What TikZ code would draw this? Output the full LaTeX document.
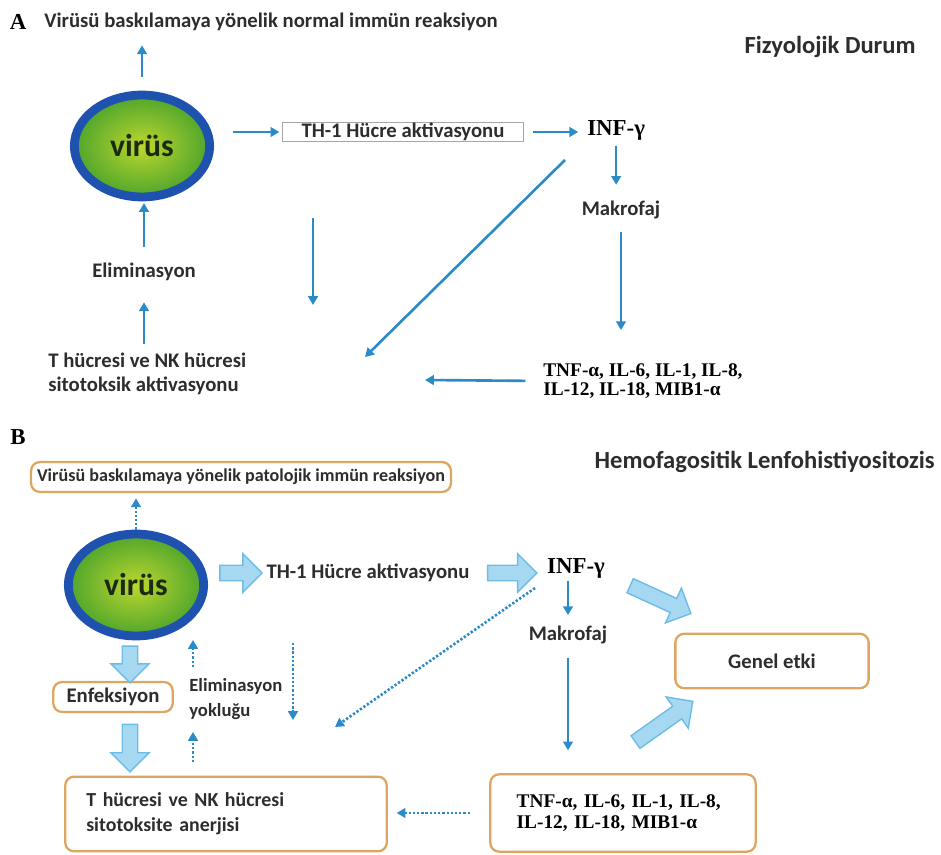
\documentclass[tikz,border=0pt]{standalone}
\usepackage{fontspec}
\setmainfont{Liberation Serif}
\newfontfamily\calib{Carlito}
\usetikzlibrary{shapes.geometric,shapes.arrows,arrows.meta}

\definecolor{lnblue}{HTML}{2A8BC8}
\definecolor{fatfill}{HTML}{A6D8F2}
\definecolor{fatline}{HTML}{6CBCE6}
\definecolor{boxor}{HTML}{DDA560}
\definecolor{txtgray}{HTML}{2D2D2D}
\definecolor{virblue}{HTML}{1F52AE}
\definecolor{virgreen}{HTML}{4FA52C}
\definecolor{viryel}{HTML}{BCD72E}
\definecolor{virtext}{HTML}{1C2A10}

\tikzset{
  lbl/.style={font=\calib\bfseries\fontsize{11.8}{14}\selectfont, text=txtgray, inner sep=0pt},
  lblsm/.style={lbl, font=\calib\bfseries\fontsize{10.6}{14}\selectfont},
  ttl/.style={font=\calib\bfseries\fontsize{14}{16}\selectfont, text=txtgray, inner sep=0pt},
  ser/.style={font=\bfseries\fontsize{11}{10.5}\selectfont, text=black, inner sep=0pt},
  serbig/.style={font=\bfseries\fontsize{13}{13}\selectfont, text=black, inner sep=0pt},
  virus/.style={ellipse, minimum width=77pt, minimum height=58pt, draw=virblue,
    line width=5pt, inner color=viryel, outer color=virgreen,
    font=\calib\bfseries\fontsize{18}{18}\selectfont, text=virtext},
  orbox/.style={draw=boxor, line width=1.3pt, rounded corners=5pt},
  ln/.style={draw=lnblue, line width=1.5pt, -{Triangle[length=5pt,width=5.5pt]}},
  dln/.style={ln, dash pattern=on 1.3pt off 1.1pt},
  fat/.style={single arrow, draw=fatline, fill=fatfill, line width=0.8pt,
    inner xsep=0pt, inner ysep=4pt, single arrow head extend=6.5pt,
    midway, sloped}
}

\begin{document}
\begin{tikzpicture}[x=0.02cm,y=-0.02cm]
\useasboundingbox (0,0) rectangle (941,855);

% -------- A: Fizyolojik Durum --------
\node[serbig] (labA) at (18,22) {A};
\node[lbl, anchor=west] (topA) at (44,22) {Virüsü baskılamaya yönelik normal immün reaksiyon};
\node[ttl, anchor=east] (ttlA) at (916,47) {Fizyolojik Durum};
\node[virus] (virA) at (142,146) {virüs};
\node[lbl, draw=gray!70, line width=0.8pt, minimum width=137pt,
      text height=8.5pt, text depth=2.5pt] (thA) at (403,132) {TH-1 Hücre aktivasyonu};
\node[serbig, anchor=west] (infA) at (587,130) {INF-γ};
\node[lbl] (makA) at (621,210) {Makrofaj};
\node[ser, align=left, anchor=west] (cytA) at (543,381) {TNF-α, IL-6, IL-1, IL-8,\\IL-12, IL-18, MIB1-α};
\node[lbl] (elimA) at (144,272) {Eliminasyon};
\node[lbl, align=left, anchor=west] (tA) at (48,374) {T hücresi ve NK hücresi\\sitotoksik aktivasyonu};

\coordinate (dA1) at (313,218);
\coordinate (dA2) at (313,305);
\coordinate (gA1) at (565,160);
\coordinate (gA2) at (365,357);
\coordinate (cA) at (425,380);

\draw[ln, shorten <=8pt, shorten >=8pt] (virA.north) -- (virA.north |- topA.south);
\draw[ln, shorten <=11pt, shorten >=1.5pt] (virA.east |- thA.west) -- (thA.west);
\draw[ln, shorten <=5pt, shorten >=5pt] (thA.east) -- (thA.east -| infA.west);
\draw[ln, shorten <=3pt, shorten >=9pt] (infA.south) -- (infA.south |- makA.north);
\draw[ln, shorten <=7pt, shorten >=19pt] (makA.south) -- (makA.south |- cytA.north);
\draw[ln, shorten <=10pt] (cytA.west) -- (cA);
\draw[ln] (gA1) -- (gA2);
\draw[ln] (dA1) -- (dA2);
\draw[ln, shorten <=5pt, shorten >=12pt] (elimA.south |- tA.north) -- (elimA.south);
\draw[ln, shorten <=9pt, shorten >=1pt] (elimA.north) -- (elimA.north |- virA.south);

% -------- B: Hemofagositik Lenfohistiyositozis --------
\node[serbig] (labB) at (18,437) {B};
\node[lbl, orbox, font=\calib\bfseries\fontsize{10.3}{12}\selectfont,
      minimum width=239pt, minimum height=17pt] (topB) at (241,477) {Virüsü baskılamaya yönelik patolojik immün reaksiyon};
\node[ttl, anchor=east] (ttlB) at (935,462) {Hemofagositik Lenfohistiyositozis};
\node[virus] (virB) at (136,585) {virüs};
\node[lbl] (thB) at (368,573) {TH-1 Hücre aktivasyonu};
\node[serbig] (infB) at (576,568) {INF-γ};
\node[lbl] (makB) at (568,635) {Makrofaj};
\node[lbl, orbox, minimum width=110pt, minimum height=31pt] (genB) at (772,661) {Genel etki};
\node[lbl, orbox, minimum width=68pt, minimum height=17pt] (enfB) at (113,697) {Enfeksiyon};
\node[lblsm, align=left, anchor=west] (elimB) at (189,699) {Eliminasyon\\yokluğu};
\node[lbl, font=\calib\bfseries\fontsize{11.3}{14}\selectfont, orbox, inner xsep=12pt,
      text width=159pt, minimum height=42.5pt, align=left] (tB) at (226,814) {T hücresi ve NK hücresi\\sitotoksite anerjisi};
\node[ser, orbox, inner xsep=15pt, text width=121pt, minimum height=44pt, align=left] (cytB) at (623,813) {TNF-α, IL-6, IL-1, IL-8,\\[1.5pt]IL-12, IL-18, MIB1-α};

\coordinate (xB) at (130,0);
\coordinate (fB3a) at (622,582);
\coordinate (fB3b) at (692,614);
\coordinate (fB4a) at (630,746);
\coordinate (fB4b) at (692,702);
\coordinate (dB1) at (293,643);
\coordinate (dB2) at (293,720);
\coordinate (gB1) at (535,588);
\coordinate (gB2) at (335,727);
\coordinate (uB1) at (193,667);
\coordinate (uB2) at (193,640);
\coordinate (uB3) at (193,762);
\coordinate (uB4) at (193,732);

% wide arrows
\path (virB.east |- thB) -- (thB.west) node[fat, minimum height=24pt] (fB1) {};
\path (thB.east) -- (thB.east -| infB.west) node[fat, minimum height=28pt] (fB2) {};
\path (fB3a) -- (fB3b) node[fat, minimum height=38pt] (fB3) {};
\path (fB4a) -- (fB4b) node[fat, minimum height=40pt] (fB4) {};
\path (virB.south -| xB) -- (enfB.north -| xB) node[fat, minimum height=21pt] (fB5) {};
\path (enfB.south -| xB) -- (tB.north -| xB) node[fat, minimum height=27pt] (fB6) {};

% thin and dotted arrows
\draw[dln, shorten >=3pt] (virB.north) -- (virB.north |- topB.south);
\draw[ln, shorten <=1.5pt, shorten >=6pt] (makB.north |- infB.south) -- (makB.north);
\draw[ln, shorten <=8pt, shorten >=13pt] (makB.south) -- (makB.south |- cytB.north);
\draw[dln, shorten <=11pt, shorten >=5pt] (cytB.west) -- (cytB.west -| tB.east);
\draw[dln] (gB1) -- (gB2);
\draw[dln] (dB1) -- (dB2);
\draw[dln] (uB1) -- (uB2);
\draw[dln] (uB3) -- (uB4);

\end{tikzpicture}
\end{document}
